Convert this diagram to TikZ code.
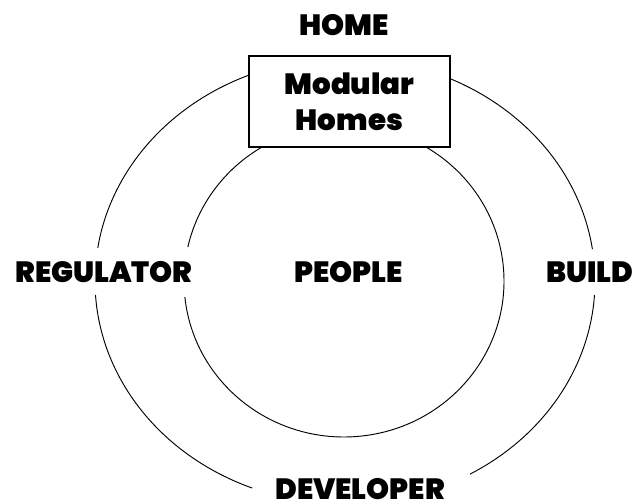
\documentclass[tikz,border=0pt]{standalone}
\usepackage{fontspec}
\setmainfont{Poppins}[UprightFont={* Black}, BoldFont={* Black}]

\begin{document}
\begin{tikzpicture}[x=0.03cm,y=0.03cm,
    every node/.style={font=\fontsize{25}{31}\selectfont, inner sep=0pt},
    ring/.style={line width=0.8pt},
    modbox/.style={draw, line width=1pt, fill=white, minimum width=6.03cm,
                   minimum height=2.73cm, align=center}]
    % 画布大小
    \useasboundingbox (0,0) rectangle (644,504);

    % 外椭圆与内圆的半径
    \def\rxo{250} \def\ryo{223}
    \def\rxi{160} \def\ryi{156}

    % 圆心
    \coordinate (Oo) at (345,223);
    \coordinate (Oi) at (344,223);

    % 外圈：在左、右、下三处文字旁断开
    \draw[ring] (Oo) ++({\rxo*cos(8.2)},{\ryo*sin(8.2)})
        arc[start angle=8.2, end angle=171.5, x radius=\rxo, y radius=\ryo];
    \draw[ring] (Oo) ++({\rxo*cos(183.6)},{\ryo*sin(183.6)})
        arc[start angle=183.6, end angle=248.2, x radius=\rxo, y radius=\ryo];
    \draw[ring] (Oo) ++({\rxo*cos(300)},{\ryo*sin(300)})
        arc[start angle=300, end angle=356.4, x radius=\rxo, y radius=\ryo];

    % 内圈：左侧断开
    \draw[ring] (Oi) ++({\rxi*cos(-174.1)},{\ryi*sin(-174.1)})
        arc[start angle=-174.1, end angle=167.4, x radius=\rxi, y radius=\ryi];

    % 顶部方框，盖住两圈的上端
    \node[modbox] (modular) at (349.5,402.5) {Modular\\Homes};

    % 四周与中心的文字
    \node (home) at (344,479) {HOME};
    \node (regulator) at (104,232) {REGULATOR};
    \node (people) at (348.5,231.5) {PEOPLE};
    \node (build) at (590,232) {BUILD};
    \node (developer) at (360,15) {DEVELOPER};

\end{tikzpicture}
\end{document}
